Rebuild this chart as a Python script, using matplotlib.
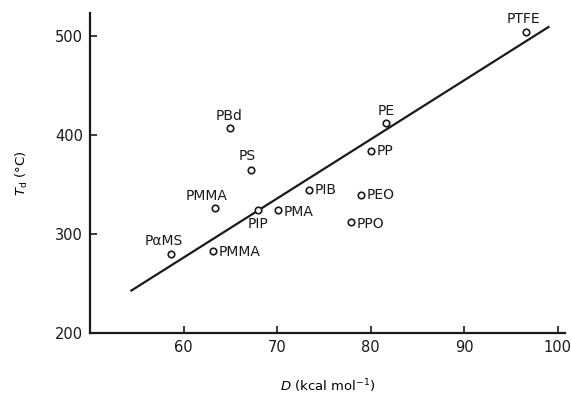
import matplotlib
matplotlib.use("Agg")
import matplotlib.pyplot as plt

# Bond dissociation energy D (kcal/mol) vs. decomposition temperature Td (°C)
polymers = ["PTFE", "PE", "PP", "PBd", "PS", "PMMA", "PIP", "PMA",
            "PIB", "PEO", "PPO", "PMMA", "PαMS"]
energy = [96.6, 81.6, 80.0, 64.9, 67.2, 63.3, 67.9, 70.1,
          73.4, 79.0, 77.9, 63.1, 58.6]
temp = [504, 412, 384, 407, 365, 326, 324, 324,
        345, 339, 312, 283, 280]

# fitted trend line end points
fit_x = [54.4, 99.0]
fit_y = [243, 509]

# label placement: (dx, dy) offsets in points and alignment
offsets = {
    0: (-2, 4, "center", "bottom"),
    1: (0, 4, "center", "bottom"),
    2: (4, 0, "left", "center"),
    3: (0, 4, "center", "bottom"),
    4: (-3, 5, "center", "bottom"),
    5: (-6, 4, "center", "bottom"),
    6: (0, -5, "center", "top"),
    7: (4, -1, "left", "center"),
    8: (4, 0, "left", "center"),
    9: (4, 0, "left", "center"),
    10: (4, -1, "left", "center"),
    11: (4, -1, "left", "center"),
    12: (-5, 4, "center", "bottom"),
}

fig = plt.figure(figsize=(5.71, 3.99), dpi=100)
ax = fig.add_axes([0.158, 0.165, 0.832, 0.802])

ax.plot(fit_x, fit_y, color="#1a1a1a", lw=1.6)
ax.scatter(energy, temp, s=22, facecolors="white", edgecolors="#1a1a1a",
           linewidths=1.2, zorder=3)

for i, name in enumerate(polymers):
    dx, dy, ha, va = offsets[i]
    ax.annotate(name, (energy[i], temp[i]), xytext=(dx, dy),
                textcoords="offset points", ha=ha, va=va,
                fontsize=10, color="#1a1a1a")

ax.set_xlim(50, 100.8)
ax.set_ylim(200, 523)
ax.set_xticks([60, 70, 80, 90, 100])
ax.set_yticks([200, 300, 400, 500])
ax.tick_params(direction="in", length=5, width=1.2, labelsize=10.5,
               colors="#1a1a1a", pad=5)
for side in ("top", "right"):
    ax.spines[side].set_visible(False)
for side in ("left", "bottom"):
    ax.spines[side].set_linewidth(1.6)
    ax.spines[side].set_color("#1a1a1a")

ax.set_xlabel("$D$ (kcal mol$^{-1}$)", fontsize=9.5, labelpad=16)
ax.set_ylabel("$T_\\mathrm{d}$ (°C)", fontsize=9.5, labelpad=18)

fig.savefig("out.png", dpi=100)
